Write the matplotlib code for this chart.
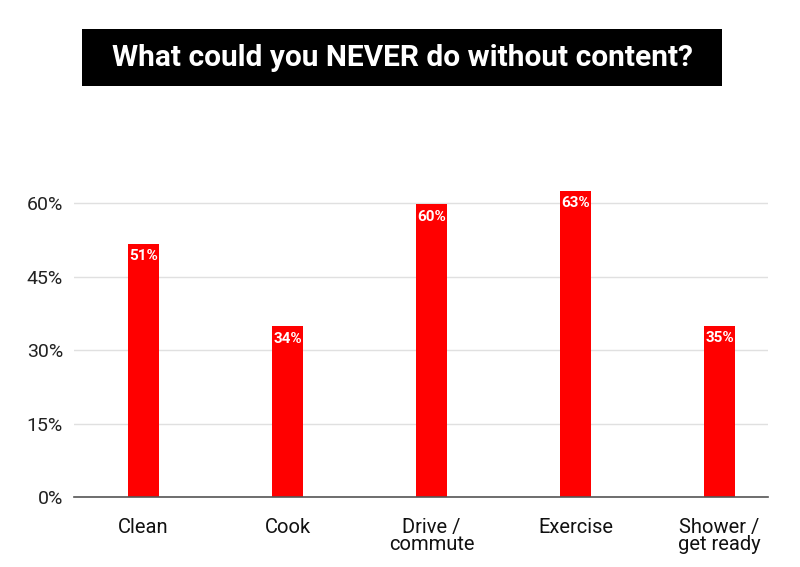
import numpy as np
import matplotlib
matplotlib.use("Agg")
import matplotlib.pyplot as plt

categories = ["Clean", "Cook", "Drive /\ncommute", "Exercise", "Shower /\nget ready"]
values = [51.8, 34.9, 59.9, 62.6, 35.0]
value_labels = ["51%", "34%", "60%", "63%", "35%"]
yticks = [0, 15, 30, 45, 60]

plt.rcParams["font.family"] = ["Roboto", "DejaVu Sans"]

fig = plt.figure(figsize=(8, 5.67), dpi=100)
W, H = 800, 567
# axes in pixel terms: left 74, right 768, bottom (0%) 497
ax = fig.add_axes([74 / W, (H - 497) / H, (768 - 74) / W, (497 - 179) / H])

x = np.arange(len(categories))
bars = ax.bar(x, values, width=0.215, color="#ff0000", zorder=3)

for b, lab in zip(bars, value_labels):
    ax.annotate(lab, (b.get_x() + b.get_width() / 2, b.get_height()),
                xytext=(0, -4), textcoords="offset points",
                ha="center", va="top", color="white",
                fontsize=11, fontweight="bold", zorder=4)

ax.set_xlim(-0.483, 4.337)
ax.set_ylim(0, 65)
ax.set_yticks(yticks)
ax.set_yticklabels([f"{t}%" for t in yticks], fontsize=14, color="#222222")
ax.set_xticks(x)
ax.set_xticklabels(categories, fontsize=14.5, color="#111111", linespacing=0.85)
ax.tick_params(axis="both", length=0)
ax.tick_params(axis="y", pad=8)
ax.tick_params(axis="x", pad=15)

ax.grid(axis="y", color="#e0e0e0", linewidth=1, zorder=0)
for s in ["top", "right", "left"]:
    ax.spines[s].set_visible(False)
ax.spines["bottom"].set_color("#555555")
ax.spines["bottom"].set_linewidth(1.2)
ax.spines["bottom"].set_zorder(5)

# title in black box
box = fig.add_axes([82 / W, (H - 86) / H, (722 - 82) / W, (86 - 29) / H])
box.set_facecolor("black")
box.set_xticks([])
box.set_yticks([])
for s in box.spines.values():
    s.set_visible(False)
box.text(0.5, 0.5, "What could you NEVER do without content?", color="white",
         fontsize=21.5, fontweight="bold", ha="center", va="center",
         transform=box.transAxes)

fig.savefig("out.png", dpi=100)
